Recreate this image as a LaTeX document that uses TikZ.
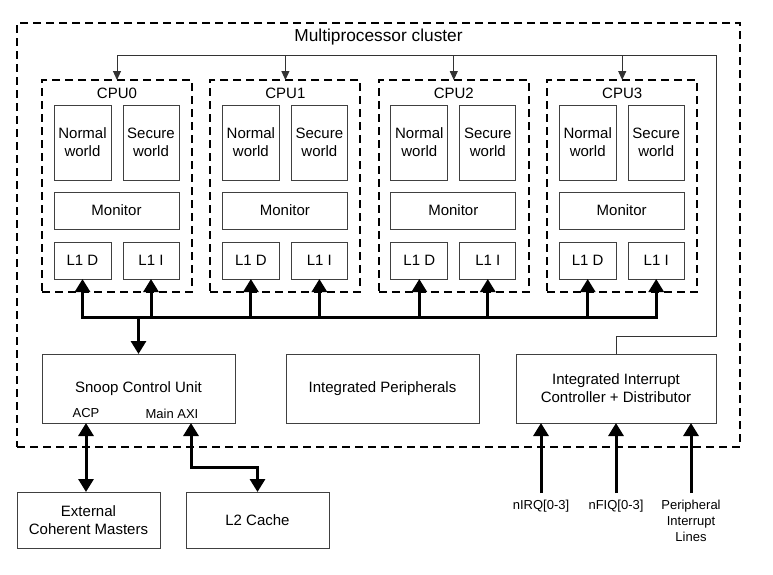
\documentclass[tikz,border=0pt]{standalone}
\usepackage{fontspec}
\setmainfont{Liberation Sans}
\usetikzlibrary{arrows.meta,positioning}

\begin{document}
\begin{tikzpicture}[
  x=1pt,y=-1pt,
  box/.style={draw=black!75,line width=0.9pt,align=center,inner sep=0pt,outer sep=0pt,font=\fontsize{15}{18}\selectfont},
  cluster/.style={draw,line width=2pt,dash pattern=on 8pt off 5pt,minimum width=723pt,minimum height=424pt,outer sep=0pt},
  cpubox/.style={draw,line width=2pt,dash pattern=on 8pt off 5pt,minimum width=150pt,minimum height=212pt,outer sep=0pt},
  lbl/.style={inner sep=0pt,align=center,font=\fontsize{13}{16}\selectfont},
  conn/.style={draw=black!80,line width=1pt},
  tarr/.style={conn,-{Triangle[length=9pt,width=8pt]}},
  busline/.style={line width=3pt,line cap=rect},
  barr/.style={line width=3pt,-{Triangle[length=13pt,width=15pt]}},
  dbarr/.style={line width=3pt,{Triangle[length=13pt,width=15pt]}-{Triangle[length=13pt,width=15pt]}}
]
\useasboundingbox (0,0) rectangle (773,574);

\node[cluster] (cluster) at (378.5,235) {};
\node[font=\fontsize{17.3}{20}\selectfont] (ctitle) at (378.5,37) {Multiprocessor cluster};

\coordinate (topline) at (0,55);
\coordinate (bus) at (0,317);
\coordinate (midR) at (716,336);

% four cores
\foreach \k/\lx in {0/42,1/210.4,2/378.8,3/547.2} {
  \node[cpubox] (cpu\k) at (\lx+75,186) {};
  \node[font=\fontsize{15}{18}\selectfont] (cpuname\k) at ([yshift=-13pt]cpu\k.north) {CPU\k};
  \node[box,minimum width=57pt,minimum height=75pt,anchor=north west] (n\k) at (\lx+12,105) {Normal\\world};
  \node[box,minimum width=56pt,minimum height=75pt,right=12pt of n\k] (s\k) {Secure\\world};
  \node[box,minimum width=125pt,minimum height=37pt,below right=12pt and 0pt of n\k.south west] (m\k) {Monitor};
  \node[box,minimum width=57pt,minimum height=37pt,below right=13pt and 0pt of m\k.south west] (d\k) {L1 D};
  \node[box,minimum width=56pt,minimum height=37pt,right=12pt of d\k] (i\k) {L1 I};
  \draw[tarr] (cpu\k.north |- topline) -- (cpu\k.north);
  \draw[barr] (d\k.south |- bus) -- (d\k.south);
  \draw[barr] (i\k.south |- bus) -- (i\k.south);
}

\node[box,minimum width=193pt,minimum height=69pt] (scu) at (138.5,388.5) {Snoop Control Unit};
\node[lbl] (acp) at (86,413.5) {ACP};
\node[lbl] (mainaxi) at (172,413.5) {Main AXI};
\coordinate (axi) at (191,423);
\node[box,minimum width=193pt,minimum height=69pt] (iper) at (382.5,388.5) {Integrated Peripherals};
\node[box,minimum width=200pt,minimum height=69pt] (iic) at (616,388.5) {Integrated Interrupt\\Controller + Distributor};
\node[box,minimum width=143pt,minimum height=56pt] (ecm) at (88.5,520) {External\\Coherent Masters};
\node[box,minimum width=143pt,minimum height=56pt] (l2) at (257.5,520) {L2 Cache};

\node[lbl,anchor=north] (nirq) at (541,500) {nIRQ[0-3]};
\node[lbl,anchor=north] (nfiq) at (616,500) {nFIQ[0-3]};
\node[lbl,anchor=north] (plines) at (691,500) {Peripheral\\Interrupt\\Lines};

\draw[conn] (iic.north) |- (midR) |- (cpu0.north |- topline);
\draw[busline] (d0.south |- bus) -- (i3.south |- bus);
\draw[barr] (scu.north |- bus) -- (scu.north);
\draw[dbarr] (acp |- scu.south) -- (acp |- ecm.north);
\draw[dbarr] (axi) -- ++(0,44) -| (l2.north);
\draw[barr,shorten <=7pt] (nirq.north) -- (nirq.north |- iic.south);
\draw[barr,shorten <=7pt] (nfiq.north) -- (nfiq.north |- iic.south);
\draw[barr,shorten <=7pt] (plines.north) -- (plines.north |- iic.south);
\end{tikzpicture}
\end{document}
